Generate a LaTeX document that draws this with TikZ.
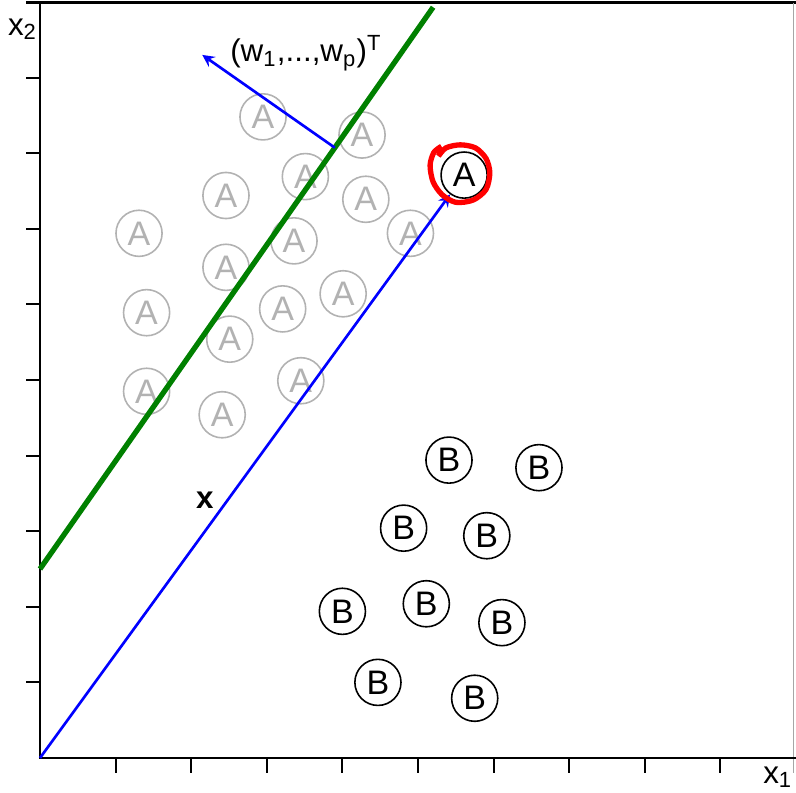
\documentclass[tikz,border=0pt]{standalone}
\usepackage{fontspec}
\setmainfont{Liberation Sans}
\usepackage{tikz}
\usetikzlibrary{calc}
\definecolor{lightA}{RGB}{178,178,178}
\definecolor{darkgreen}{RGB}{0,128,0}

\begin{document}
\begin{tikzpicture}[every node/.style={font=\fontsize{12.8}{15}\selectfont}]
        \tikzstyle{acirc} = [draw=lightA, text=lightA, circle, minimum size=0.61cm, inner sep=0pt, line width=0.6pt]
        \tikzstyle{bcirc} = [draw, circle, minimum size=0.61cm, inner sep=0pt, line width=0.6pt]
        \tikzstyle{lbl} = [font=\fontsize{11.8}{14}\selectfont, inner sep=0pt]
        \useasboundingbox (-0.529,-0.463) rectangle (10.0,10.026);
        \draw[line width=1.1pt] (-0.18,9.99) -- (10.0,9.99);
        \draw[gray!70, line width=0.5pt] (9.97,9.99) -- (9.97,-0.2);
        \draw[line width=1.1pt] (0,9.99) -- (0,0) -- (10.0,0);
        \foreach \i in {1,...,9} {
          \draw[line width=0.75pt] (\i,0) -- (\i,-0.2);
          \draw[line width=0.75pt] (0,\i) -- (-0.19,\i);
        }
        \node[lbl, anchor=base west] (x1lab) at (9.56,-0.331) {x\textsubscript{1}};
        \node[lbl, anchor=base west] (x2lab) at (-0.43,9.563) {x\textsubscript{2}};
        \node[acirc] (A1) at (2.95, 8.48) {A};
        \node[acirc] (A2) at (4.26, 8.24) {A};
        \node[acirc] (A3) at (3.51, 7.69) {A};
        \node[acirc] (A4) at (2.46, 7.44) {A};
        \node[acirc] (A5) at (4.31, 7.39) {A};
        \node[acirc] (A6) at (1.31, 6.94) {A};
        \node[acirc] (A7) at (3.36, 6.84) {A};
        \node[acirc] (A8) at (4.90, 6.94) {A};
        \node[acirc] (A9) at (2.46, 6.49) {A};
        \node[acirc] (A10) at (1.41, 5.89) {A};
        \node[acirc] (A11) at (3.21, 5.94) {A};
        \node[acirc] (A12) at (4.01, 6.14) {A};
        \node[acirc] (A13) at (2.51, 5.54) {A};
        \node[acirc] (A14) at (1.41, 4.85) {A};
        \node[acirc] (A15) at (3.45, 4.99) {A};
        \node[acirc] (A16) at (2.41, 4.54) {A};
        \node[bcirc] (Ax) at (5.61, 7.71) {A};
        \node[bcirc] (B1) at (5.41, 3.94) {B};
        \node[bcirc] (B2) at (6.60, 3.84) {B};
        \node[bcirc] (B3) at (4.81, 3.04) {B};
        \node[bcirc] (B4) at (5.91, 2.94) {B};
        \node[bcirc] (B5) at (4.00, 1.94) {B};
        \node[bcirc] (B6) at (5.11, 2.04) {B};
        \node[bcirc] (B7) at (6.11, 1.79) {B};
        \node[bcirc] (B8) at (4.47, 1.00) {B};
        \node[bcirc] (B9) at (5.75, 0.79) {B};
        \coordinate (O) at (0, 0);
        \coordinate (g0) at (0, 2.5);
        \coordinate (g1) at (5.2, 9.93);
        \coordinate (foot) at ($(g0)!0.75!(g1)$);
        \coordinate (wtip) at ($(foot)!2.14cm!90:(g1)$);
        \draw[darkgreen, line width=2pt] (g0) -- (g1);
        \draw[->, >=stealth, blue, line width=1pt] (foot) -- (wtip);
        \draw[->, >=stealth, blue, line width=1pt] (O) -- (Ax);
        \draw[red, line width=2pt, shift={(Ax.center)}] plot[smooth] coordinates {(-0.30,0.38) (-0.40,0.30) (-0.45,0.13) (-0.41,-0.09) (-0.29,-0.26) (-0.11,-0.36) (0.12,-0.33) (0.29,-0.19) (0.34,0.03) (0.29,0.22) (0.15,0.36) (-0.05,0.40) (-0.24,0.36) (-0.34,0.25)};
        \node[lbl, anchor=base west] (wlab) at (2.51, 9.206) {(w\textsubscript{1},...,w\textsubscript{p})\textsuperscript{T}};
        \node[lbl, font=\fontsize{11.8}{14}\selectfont\bfseries] (xvec) at (2.18, 3.41) {x};
      \end{tikzpicture}
\end{document}
